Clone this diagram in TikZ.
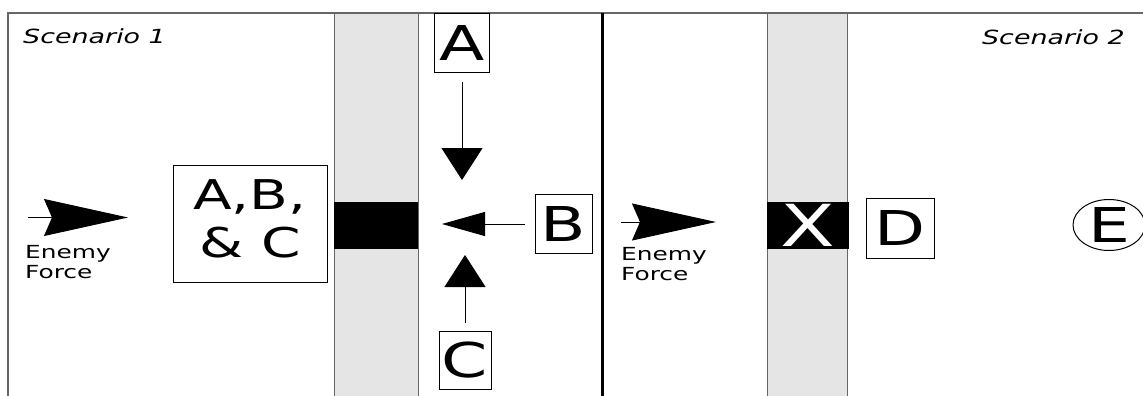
\documentclass[tikz,border=0pt]{standalone}
\usepackage{fontspec}
\setmainfont{DejaVu Sans}
\usepackage{graphicx}
\usetikzlibrary{arrows.meta,shapes.geometric}
\definecolor{stripgray}{HTML}{E5E5E5}
\definecolor{edgegray}{HTML}{666666}

\begin{document}
\begin{tikzpicture}[y=-1pt,x=1pt,
	unit/.style={draw,line width=1pt,inner sep=0pt,font=\fontsize{48}{50}\selectfont},
	label/.style={inner sep=0pt,font=\fontsize{18}{20}\selectfont},
	hit/.style={line width=1pt,shorten <=8pt},
	enemy/.style={line width=1pt,-{Stealth[length=84pt,width=37pt,inset=8pt]}}]
	\newcommand\wide[1]{\scalebox{1.38}[1]{#1}}
	\useasboundingbox (0,0) rectangle (1143,396);
	\fill[white] (0,0) rectangle (1143,396);

	\draw[edgegray,line width=1.5pt] (8,400) -- (8,13) -- (1150,13);
	\draw[edgegray,fill=stripgray] (334,400) rectangle (418,13);
	\draw[edgegray,fill=stripgray] (767,400) rectangle (847,13);
	\draw[line width=3pt] (602,13) -- (602,400);
	\fill (334,202) rectangle (418,249);

	\node[label,anchor=base west,font=\fontsize{19.5}{23}\selectfont\itshape] (scen1) at (23,44) {\wide{Scenario 1}};
	\node[label,anchor=base east,font=\fontsize{19.5}{23}\selectfont\itshape] (scen2) at (1125,45) {\wide{Scenario 2}};

	\node[unit,minimum width=154pt,minimum height=117pt,font=\fontsize{41}{48}\selectfont] (unitABC) at (250,223.5) {\wide{\begin{tabular}{@{}c@{}}A,B,\\\& C\end{tabular}}};
	\node[unit,minimum width=55pt,minimum height=59pt] (unitA) at (462,43.5) {\wide{A}};
	\node[unit,minimum width=57pt,minimum height=59pt] (unitB) at (563.5,224) {\wide{B}};
	\node[unit,minimum width=52pt,minimum height=58pt] (unitC) at (465,360) {\wide{C}};
	\node[unit,minimum width=68pt,minimum height=60pt] (unitD) at (900,228) {\wide{D}};
	\node[unit,ellipse,minimum width=72pt,minimum height=51pt] (unitE) at (1109,225) {\wide{E}};
	\node[fill=black,text=white,inner sep=0pt,minimum width=82pt,minimum height=47pt,font=\fontsize{58}{60}\selectfont] (lost) at (808,225.5) {\wide{X}};

	\coordinate (tipA) at (462,180);
	\coordinate (tipB) at (442,224);
	\coordinate (tipC) at (465,255);
	\draw[hit,-{Triangle[length=32pt,width=41pt]}] (unitA) -- (tipA);
	\draw[hit,shorten <=10pt,-{Triangle[length=43pt,width=24pt]}] (unitB) -- (tipB);
	\draw[hit,-{Triangle[length=32pt,width=41pt]}] (unitC) -- (tipC);

	\coordinate (enemy1) at (28,217.5);
	\coordinate (front1) at (128,217.5);
	\coordinate (enemy2) at (621,222);
	\coordinate (front2) at (716,222);
	\draw[enemy] (enemy1) -- (front1);
	\draw[enemy] (enemy2) -- (front2);
	\node[label,anchor=base west] (force1) at (25,258) {\wide{\begin{tabular}[t]{@{}l@{}}Enemy\\Force\end{tabular}}};
	\node[label,anchor=base west] (force2) at (621,260) {\wide{\begin{tabular}[t]{@{}l@{}}Enemy\\Force\end{tabular}}};
\end{tikzpicture}
\end{document}
